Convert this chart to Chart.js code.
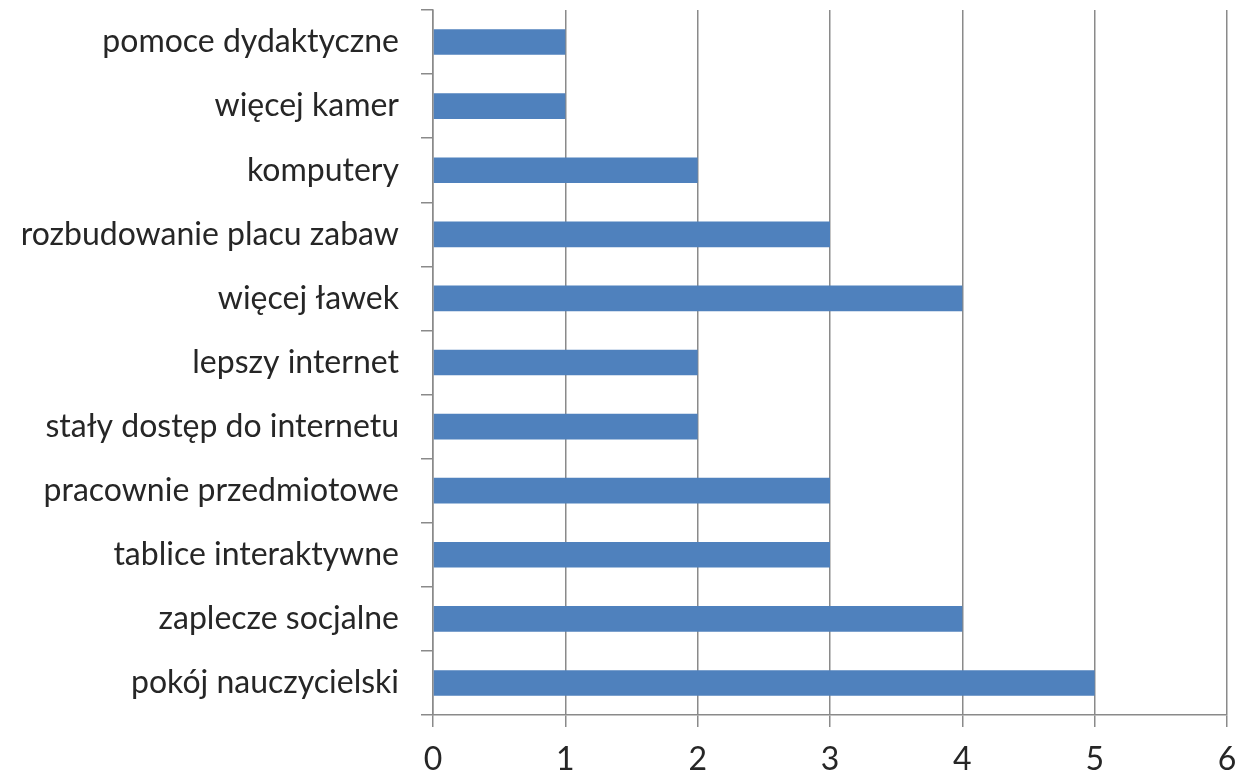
<!DOCTYPE html>
<html>
<head>
<meta charset="utf-8">
<script src="https://cdn.jsdelivr.net/npm/chart.js@4"></script>
<style>
  html, body { margin: 0; padding: 0; background: #fff; }
  #wrap { width: 1236px; height: 774px; }
</style>
</head>
<body>
<div id="wrap"><canvas id="myChart"></canvas></div>
<script>
const categories = [
  "pomoce dydaktyczne",
  "więcej kamer",
  "komputery",
  "rozbudowanie placu zabaw",
  "więcej ławek",
  "lepszy internet",
  "stały dostęp do internetu",
  "pracownie przedmiotowe",
  "tablice interaktywne",
  "zaplecze socjalne",
  "pokój nauczycielski",
];
const counts = [1, 1, 2, 3, 4, 2, 2, 3, 3, 4, 5];
const xTicks = [0, 1, 2, 3, 4, 5, 6];

const labelFont = { family: "Lato, 'Open Sans', sans-serif", size: 32 };

const data = {
  labels: categories,
  datasets: [
    {
      label: "Liczba",
      backgroundColor: "#4F81BD",
      borderColor: "#4F81BD",
      data: counts,
      barPercentage: 0.4,
      categoryPercentage: 1.0,
    },
  ],
};

const config = {
  type: "bar",
  data: data,
  options: {
    indexAxis: "y",
    responsive: true,
    maintainAspectRatio: false,
    animation: false,
    layout: { padding: { top: 10, right: 9, left: 0, bottom: 0 } },
    plugins: {
      legend: { display: false },
      tooltip: { enabled: false },
    },
    scales: {
      x: {
        min: xTicks[0],
        max: xTicks[xTicks.length - 1],
        afterBuildTicks: (scale) => {
          scale.ticks = xTicks.map((v) => ({ value: v }));
        },
        afterFit: (scale) => {
          scale.height = 59;
          scale.paddingLeft = 0;
          scale.paddingRight = 0;
        },
        ticks: { font: labelFont, color: "#262626", padding: 13 },
        grid: { color: "#8a8a8a", lineWidth: 1.5, tickLength: 12 },
        border: { color: "#8a8a8a", width: 1.5 },
      },
      y: {
        afterFit: (scale) => {
          scale.width = 433;
          scale.paddingTop = 0;
          scale.paddingBottom = 0;
        },
        ticks: { font: labelFont, color: "#262626", padding: 22 },
        grid: {
          offset: true,
          drawOnChartArea: false,
          color: "#8a8a8a",
          lineWidth: 1.5,
          tickLength: 12,
        },
        border: { color: "#8a8a8a", width: 1.5 },
      },
    },
  },
};

const myChart = new Chart(document.getElementById("myChart"), config);
</script>
</body>
</html>
